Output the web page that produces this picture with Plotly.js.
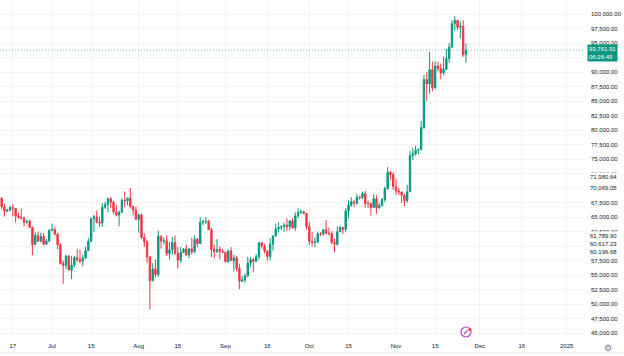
<!DOCTYPE html>
<html>
<head>
<meta charset="utf-8">
<script src="https://cdn.plot.ly/plotly-3.0.1.min.js"></script>
<style>html,body{margin:0;padding:0;background:#fff;}#chart{width:624px;height:356px;}</style>
</head>
<body>
<div id="chart"></div>
<script>
// Daily BTC candles, 2024-06-12 .. 2024-11-26
const startDate = '2024-06-12';
const openP = [67320,68240,66750,66000,66200,66650,66500,65150,64950,64850,64100,64250,63200,60250,61800,60850,61650,60300,60900,
62700,62850,62050,60200,57000,56650,58250,55850,56700,58000,57700,57350,57900,59200,60800,64700,65050,64100,63950,66700,67150,68150,67550,65900,65350,65800,67900,67800,68250,66800,66200,
64600,65350,61500,60700,58100,54000,56050,55100,61700,60850,60900,58700,59350,60600,58700,57550,58900,59450,58450,59500,59000,61150,60400,64100,64200,64250,62850,59400,59000,59400,59100,
58950,57300,59150,57500,57950,56150,53950,54150,54850,57050,57650,57350,58150,60550,60000,59150,58200,60300,61750,62950,63200,63350,63600,63350,64300,63150,65200,65800,65900,65600,
63350,60800,60650,60750,62100,62050,62800,62200,62150,60600,60300,62450,63200,62850,66050,67050,67600,67400,68400,68350,69000,67350,67350,66650,68150,66600,67000,68000,69900,72700,72300,
70200,69500,69300,68750,67800,69350,75600,75900,76500,76650,80450,88700,87950,90400,87300,91050,90600,89850,90450,92300,94300,98350,98900,97700,97900,93000];
const highP = [69999,68450,67300,66400,66950,67250,66500,65730,66480,65070,64520,64520,63370,62350,62480,62300,62200,61200,62900,
63850,63300,62300,60500,57500,58450,58450,58250,58300,59450,59400,58500,59850,61400,64900,65350,66100,65100,67400,67600,68350,68450,67800,67100,66100,68200,69400,68300,70000,66980,66800,
65600,65550,62200,61100,58300,57050,57700,62700,61750,61450,61850,60700,61550,61800,59850,59800,59650,60250,59600,61400,61800,61400,64950,64500,65000,64500,63200,60250,61200,59950,59450,
59000,59400,59800,58500,58300,56950,54850,55300,58100,58050,57950,58600,60650,60650,60400,59200,61350,61800,63850,64100,63550,64000,64750,64500,64800,65800,66500,66250,66100,65650,
64150,62400,61500,62500,62400,62950,64500,63200,62550,61300,63400,63500,63300,66500,67900,68400,67950,68950,68700,69400,69500,67850,67450,68850,68750,67450,68300,70250,73600,72950,72700,
71600,70000,69400,69000,70550,76400,76950,77250,76800,81500,89500,89950,93450,91800,91850,91800,91450,92650,94000,94950,98950,99650,98900,98700,98900,94950];
const lowP = [66900,66300,65050,65870,66000,65100,64060,64700,64500,63380,63900,63200,58400,60250,60700,60600,60100,60300,60650,
62520,61800,59450,56800,53500,56000,55750,54300,56300,57200,57050,56500,57750,59200,60650,62450,63900,63250,63300,66400,65800,66600,65500,65100,63400,65750,66650,67050,66450,65300,64500,
62300,61200,59850,57100,49000,53950,54550,54700,59550,60250,58300,57650,58450,58450,56100,57100,58800,58400,57850,58600,58800,59800,60350,63600,63800,62800,58100,57850,58800,57700,58750,
57200,57150,57400,55600,55650,52550,53750,53650,54600,56400,55550,57300,57650,59550,58700,57500,57600,59200,61600,62350,62750,62400,62550,62700,62950,62650,64850,65450,65450,62850,
60150,59950,59850,60450,61700,61800,62150,61850,60300,58900,60050,62450,62050,62450,64800,66750,66700,67100,68000,68100,66600,66550,65250,66550,65550,66450,66800,67550,69700,71450,69700,
68800,68800,67450,66850,67450,69300,74800,75600,75800,76500,80200,85050,86250,86650,87100,90100,88750,89400,90400,91550,94100,97200,97200,95800,92600,91600];
const closeP = [68240,66750,66000,66200,66650,66500,65150,64950,64850,64100,64250,63200,60250,61800,60850,61650,60300,60900,62700,
62850,62050,60200,57000,56650,58250,55850,56700,58000,57700,57350,57900,59200,60800,64700,65050,64100,63950,66700,67150,68150,67550,65900,65350,65800,67900,67800,68250,66800,66200,64600,
65350,61500,60700,58100,54000,56050,55100,61700,60850,60900,58700,59350,60600,58700,57550,58900,59450,58450,59500,59000,61150,60400,64100,64200,64250,62850,59400,59000,59400,59100,58950,
57300,59150,57500,57950,56150,53950,54150,54850,57050,57650,57350,58150,60550,60000,59150,58200,60300,61750,62950,63200,63350,63600,63350,64300,63150,65200,65800,65900,65600,63350,
60800,60650,60750,62100,62050,62800,62200,62150,60600,60300,62450,63200,62850,66050,67050,67600,67400,68400,68350,69000,67350,67350,66650,68150,66600,67000,68000,69900,72700,72300,70200,
69500,69300,68750,67800,69350,75600,75900,76500,76650,80450,88700,87950,90400,87300,91050,90600,89850,90450,92300,94300,98350,98900,97700,97900,93000,93761.91];

const xTickVals = ['2024-06-17','2024-07-01','2024-07-15','2024-08-01','2024-08-15','2024-09-01','2024-09-16','2024-10-01','2024-10-15','2024-11-01','2024-11-15','2024-12-01','2024-12-16','2025-01-01'];
const xTickText = ['17','Jul','15','Aug','15','Sep','16','Oct','15','Nov','15','Dec','16','2025'];
const yTickVals = [45000,47500,50000,52500,55000,57500,60000,62500,65000,67500,70000,72500,75000,77500,80000,82500,85000,87500,90000,92500,95000,97500,100000];

const levelVals = [71980.64, 70069.05, 61789.90, 60617.23, 60196.68];
const lastPrice = 93761.91;
const countdown = '06:26:45';

// build dates
const dates = [];
{
  const d0 = new Date(startDate + 'T00:00:00Z');
  for (let i = 0; i < closeP.length; i++) {
    const d = new Date(d0.getTime() + i * 86400000);
    dates.push(d.toISOString().slice(0, 10));
  }
}
const fmt = v => v.toLocaleString('en-US', {minimumFractionDigits: 2, maximumFractionDigits: 2});

const UP = '#089981', DOWN = '#F23645';
const yRange = [44483, 102414];
const plotH = 336;
const pxPerUnit = plotH / (yRange[1] - yRange[0]);

const trace = {
  type: 'candlestick', x: dates, open: openP, high: highP, low: lowP, close: closeP,
  increasing: {line: {color: UP, width: 1}, fillcolor: UP},
  decreasing: {line: {color: DOWN, width: 1}, fillcolor: DOWN},
  whiskerwidth: 0, hoverinfo: 'skip'
};

const font = {family: 'Liberation Sans, Arial, sans-serif', size: 6, color: '#131722'};

// level labels with simple collision avoidance
const annotations = [];
let prevPx = -100;
levelVals.slice().sort((a, b) => b - a).forEach(v => {
  const px = (yRange[1] - v) * pxPerUnit;
  const adj = Math.max(px, prevPx + 8);
  prevPx = adj;
  annotations.push({
    xref: 'paper', yref: 'y', x: 1, y: v, xanchor: 'left', yanchor: 'middle',
    xshift: 4, yshift: -(adj - px), text: fmt(v), showarrow: false,
    width: 34, align: 'left',
    font: font, bgcolor: '#ffffff', borderpad: 1
  });
});
annotations.push({
  xref: 'paper', yref: 'y', x: 1, y: lastPrice, xanchor: 'left', yanchor: 'top',
  xshift: 3, yshift: 6, text: fmt(lastPrice) + '<br>' + countdown, showarrow: false,
  font: {family: font.family, size: 6, color: '#ffffff'}, bgcolor: UP, borderpad: 1, align: 'left'
});
annotations.push({
  xref: 'paper', yref: 'paper', x: 608/584, y: -12/336, xanchor: 'center', yanchor: 'middle',
  text: '\u2699', showarrow: false, font: {family: 'DejaVu Sans', size: 9, color: '#787b86'}
});

const shapes = [
  {type: 'line', xref: 'paper', yref: 'y', x0: 0, x1: 1, y0: lastPrice, y1: lastPrice,
   line: {color: 'rgba(8,153,129,0.55)', width: 1, dash: '1px,2px'}},
  {type: 'line', xref: 'paper', yref: 'paper', x0: 0, x1: 624/584, y0: -17/336, y1: -17/336,
   line: {color: '#e0e3eb', width: 1}},
  {type: 'circle', xref: 'paper', yref: 'paper', x0: 461/584, x1: 471/584, y0: (336-337)/336, y1: (336-327)/336,
   line: {color: '#ab47bc', width: 1.2}, fillcolor: '#ffffff'},
  {type: 'line', xref: 'paper', yref: 'paper', x0: 464/584, x1: 468/584, y0: (336-334)/336, y1: (336-330)/336,
   line: {color: '#ab47bc', width: 1.2}},
  {type: 'circle', xref: 'paper', yref: 'paper', x0: 468.5/584, x1: 471.5/584, y0: (336-331)/336, y1: (336-328)/336,
   line: {color: '#f23645', width: 0}, fillcolor: '#f23645'}
];

const layout = {
  width: 624, height: 356,
  margin: {l: 0, r: 40, t: 0, b: 20, pad: 0},
  paper_bgcolor: '#ffffff', plot_bgcolor: '#ffffff',
  showlegend: false, boxgap: 0.3,
  font: font,
  xaxis: {
    type: 'date', range: ['2024-06-12 09:50', '2025-01-07 05:00'],
    rangeslider: {visible: false},
    tickmode: 'array', tickvals: xTickVals, ticktext: xTickText,
    showgrid: true, gridcolor: '#f2f3f6', gridwidth: 1, zeroline: false, showline: false,
    ticks: '', tickfont: font, ticklabelstandoff: 5, fixedrange: true
  },
  yaxis: {
    side: 'right', range: yRange,
    tickmode: 'array', tickvals: yTickVals, ticktext: yTickVals.map(fmt),
    showgrid: true, gridcolor: '#f2f3f6', gridwidth: 1, zeroline: false, showline: false,
    ticks: '', tickfont: font, ticklabelstandoff: 6, fixedrange: true
  },
  annotations: annotations,
  shapes: shapes
};

Plotly.newPlot('chart', [trace], layout, {staticPlot: true, displayModeBar: false});
</script>
</body>
</html>
